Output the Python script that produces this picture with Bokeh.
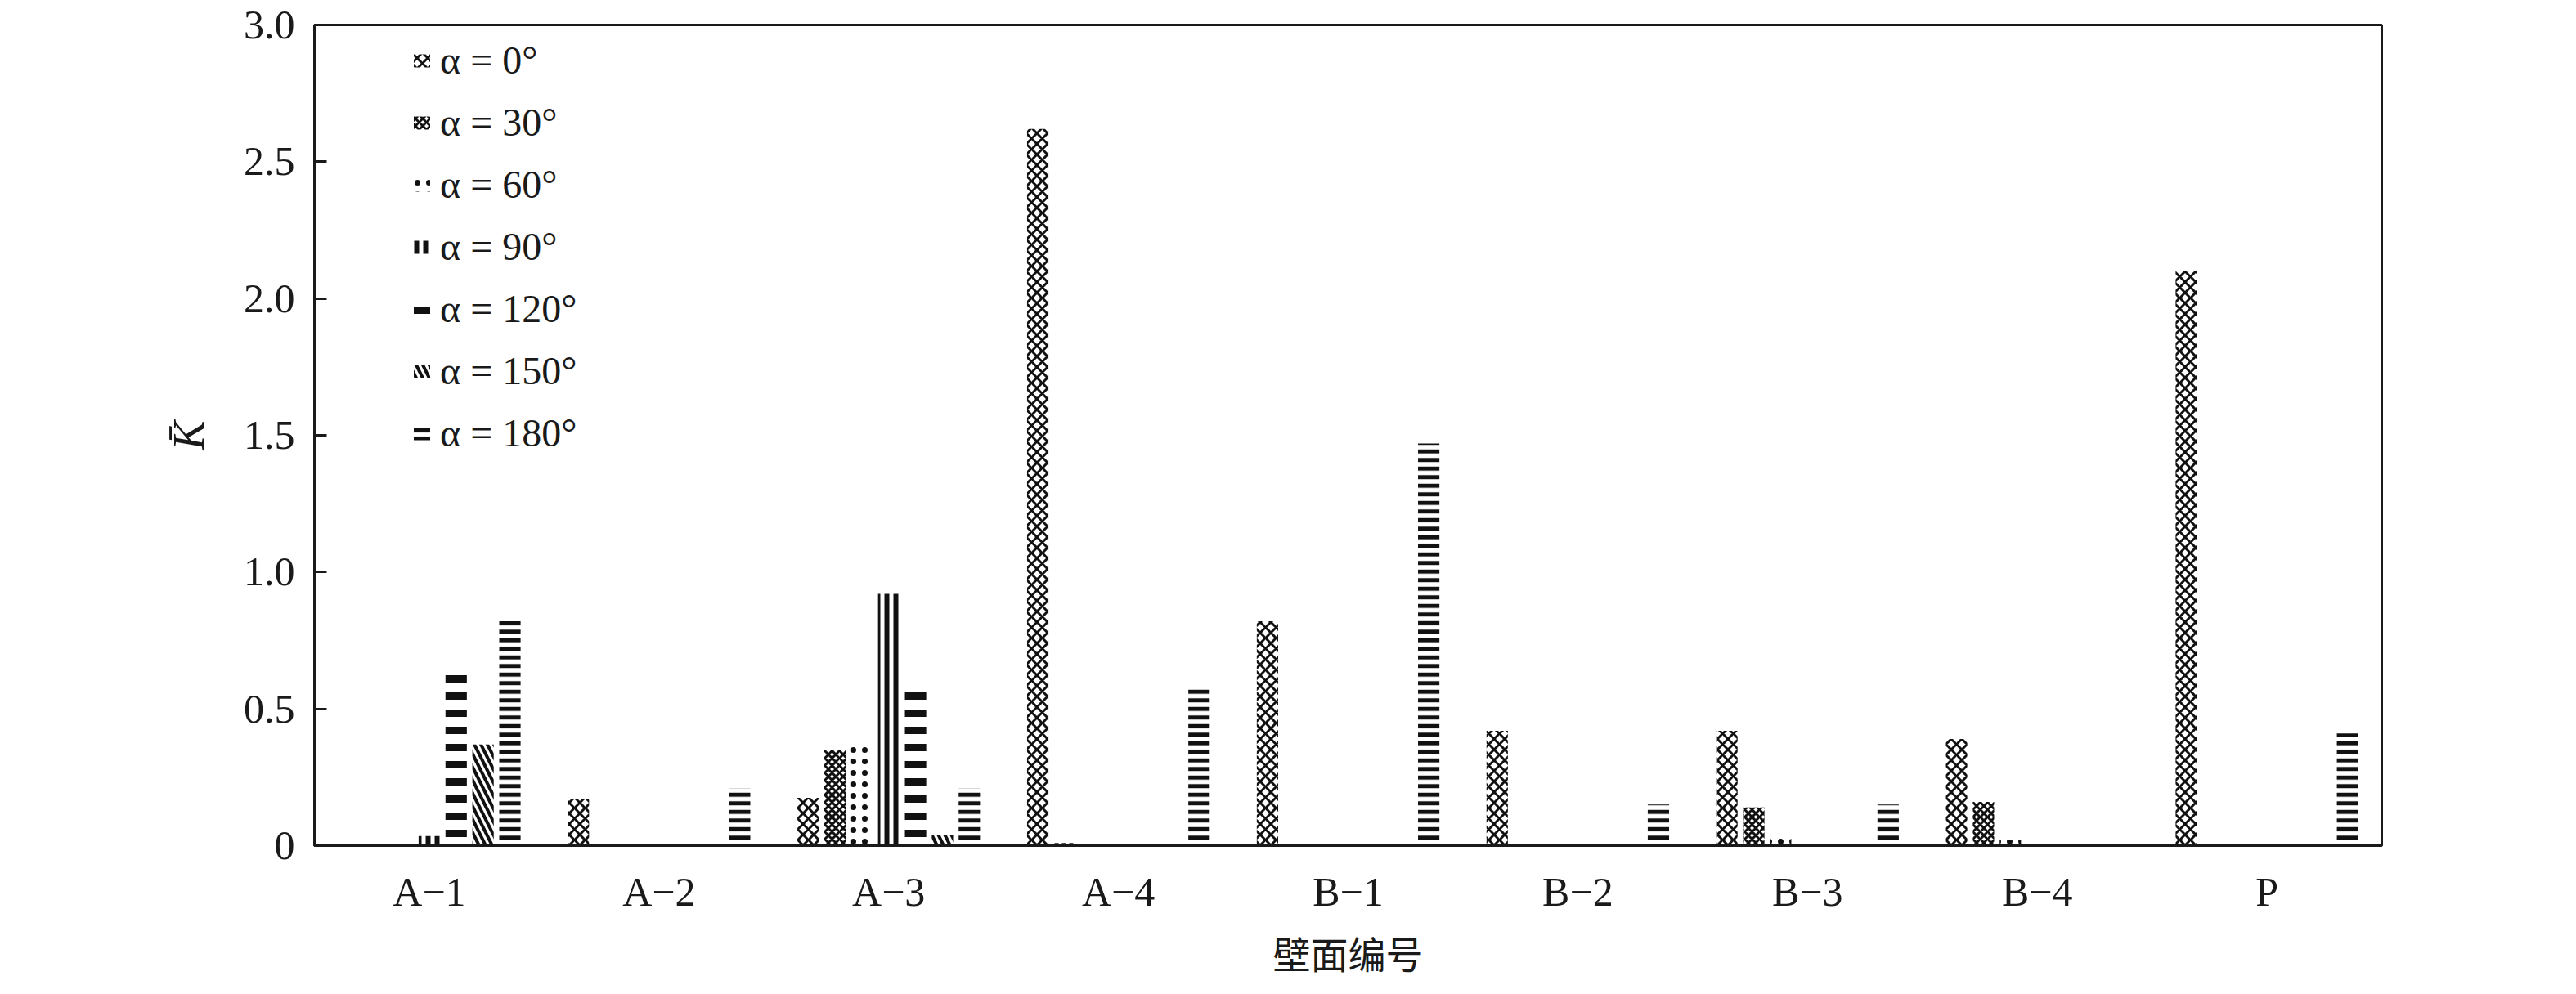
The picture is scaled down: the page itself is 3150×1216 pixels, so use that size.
from bokeh.plotting import figure
from bokeh.models import (FactorRange, FixedTicker, Legend, LegendItem,
                          ColumnDataSource, PrintfTickFormatter)
from bokeh.transform import dodge
from bokeh.embed import file_html
from bokeh.resources import INLINE

categories = ["A−1", "A−2", "A−3", "A−4", "B−1", "B−2", "B−3", "B−4", "P"]
series_labels = ["α = 0°", "α = 30°", "α = 60°", "α = 90°", "α = 120°", "α = 150°", "α = 180°"]
k_0 = [0.0, 0.17, 0.175, 2.62, 0.82, 0.42, 0.42, 0.39, 2.10]
k_30 = [0.0, 0.0, 0.35, 0.01, 0.0, 0.0, 0.14, 0.16, 0.0]
k_60 = [0.0, 0.0, 0.38, 0.0, 0.0, 0.0, 0.04, 0.02, 0.0]
k_90 = [0.035, 0.0, 0.92, 0.0, 0.0, 0.0, 0.0, 0.0, 0.0]
k_120 = [0.65, 0.0, 0.59, 0.0, 0.0, 0.0, 0.0, 0.0, 0.0]
k_150 = [0.37, 0.0, 0.04, 0.0, 0.0, 0.0, 0.0, 0.0, 0.0]
k_180 = [0.82, 0.21, 0.21, 0.58, 1.47, 0.15, 0.15, 0.0, 0.41]
y_ticks = [0, 0.5, 1.0, 1.5, 2.0, 2.5, 3.0]

series = [k_0, k_30, k_60, k_90, k_120, k_150, k_180]
keys = ["k0", "k30", "k60", "k90", "k120", "k150", "k180"]

# hatch styles: (pattern, scale, weight)
styles = [
    ("diagonal_cross", 13, 3),
    ("diagonal_cross", 9, 3),
    ("dot", 14, 4),
    ("vertical_line", 11, 6),
    ("horizontal_line", 21, 9),
    ("left_diagonal_line", 16, 4),
    ("horizontal_line", 10.5, 5),
]

data = {"cat": categories}
for k, s in zip(keys, series):
    data[k] = s
source = ColumnDataSource(data)

FONT = "Liberation Serif"

p = figure(
    x_range=FactorRange(*categories, range_padding=0),
    y_range=(0, 3.0),
    width=3134, height=1200,
    output_backend="svg", toolbar_location=None,
    min_border_left=384, min_border_right=222,
    min_border_top=30, min_border_bottom=160,
)
p.background_fill_color = "white"
p.border_fill_color = "white"
p.outline_line_color = "#1a1a1a"
p.outline_line_width = 3
p.xgrid.visible = False
p.ygrid.visible = False

step = 0.117
width = 0.093
renderers = []
for i, (k, (pat, sc, wt)) in enumerate(zip(keys, styles)):
    r = p.vbar(
        x=dodge("cat", (i - 3) * step, range=p.x_range),
        top=k, bottom=0, width=width, source=source,
        fill_color="white", line_color=None,
        hatch_pattern=pat, hatch_scale=sc, hatch_weight=wt, hatch_color="#111111",
    )
    renderers.append(r)

items = [LegendItem(label=lab, renderers=[r]) for lab, r in zip(series_labels, renderers)]
legend = Legend(items=items, location=(119, 476))
legend.border_line_color = None
legend.background_fill_color = None
legend.background_fill_alpha = 0
legend.label_text_font = FONT
legend.label_text_font_size = "48px"
legend.label_text_color = "#1a1a1a"
legend.glyph_width = 25
legend.glyph_height = 20
legend.label_standoff = 10
legend.spacing = 19
legend.padding = 0
legend.margin = 0
legend.label_height = 57
p.add_layout(legend)

# y axis
ya = p.yaxis[0]
ya.ticker = FixedTicker(ticks=y_ticks)
ya.formatter = PrintfTickFormatter(format="%.1f")
ya.major_label_overrides = {0: "0"}
ya.major_tick_in = 15
ya.major_tick_out = 0
ya.minor_tick_line_color = None
ya.axis_line_width = 3
ya.axis_line_color = "#1a1a1a"
ya.major_tick_line_width = 3
ya.major_tick_line_color = "#1a1a1a"
ya.major_label_text_font = FONT
ya.major_label_text_font_size = "50px"
ya.major_label_text_color = "#1a1a1a"
ya.major_label_standoff = 24
ya.axis_label = "K\u0304"
ya.axis_label_text_font = FONT
ya.axis_label_text_font_style = "italic"
ya.axis_label_text_font_size = "54px"
ya.axis_label_text_color = "#1a1a1a"
ya.axis_label_standoff = 34

# x axis
xa = p.xaxis[0]
xa.major_tick_line_color = None
xa.minor_tick_line_color = None
xa.axis_line_width = 3
xa.axis_line_color = "#1a1a1a"
xa.major_label_text_font = FONT
xa.major_label_text_font_size = "50px"
xa.major_label_text_color = "#1a1a1a"
xa.major_label_standoff = 22
xa.axis_label = "壁面编号"
xa.axis_label_text_font = "Noto Sans CJK SC"
xa.axis_label_text_font_style = "normal"
xa.axis_label_text_font_size = "46px"
xa.axis_label_text_color = "#1a1a1a"
xa.axis_label_standoff = 10

open("out.html", "w").write(file_html(p, INLINE))
